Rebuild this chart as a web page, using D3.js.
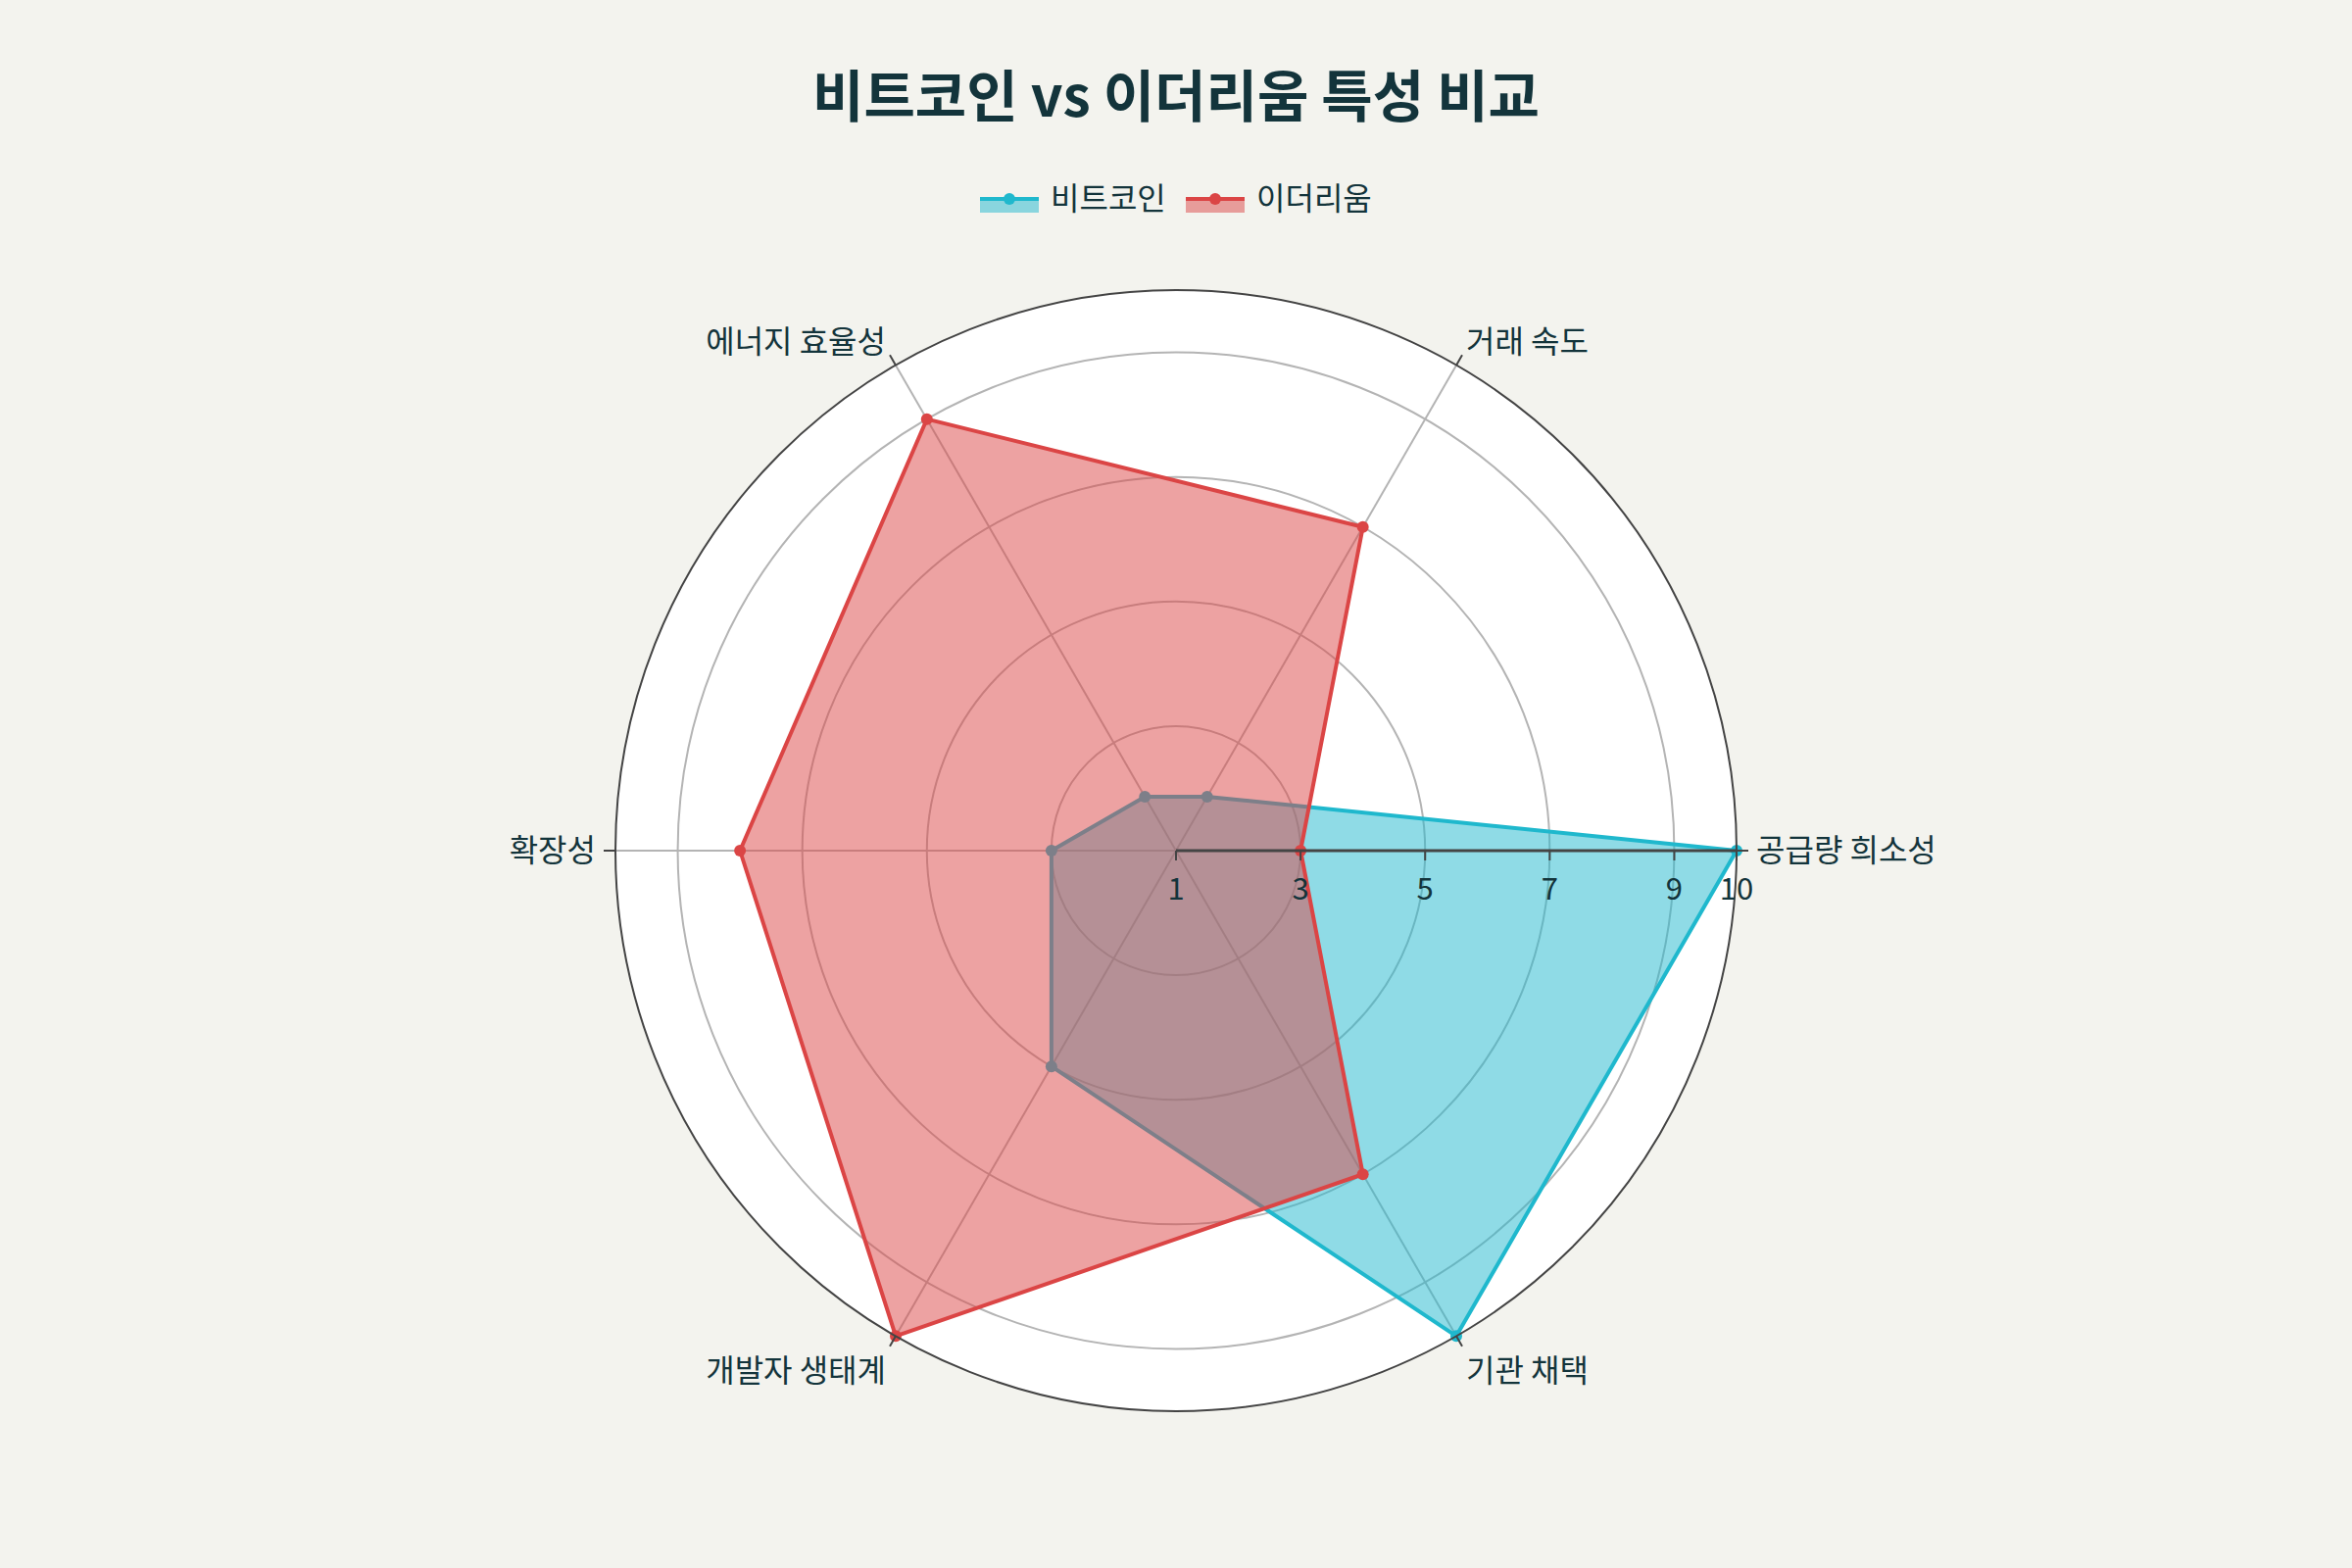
<!DOCTYPE html>
<html>
<head>
<meta charset="utf-8">
<script src="https://cdn.jsdelivr.net/npm/d3@7"></script>
<style>
  html, body { margin: 0; padding: 0; background: #F3F3EE; }
  text { font-family: "Noto Sans CJK KR", "Noto Sans", sans-serif; fill: #13343B; }
</style>
</head>
<body>
<div id="chart"></div>
<script>
// DATA
const categories = ["공급량 희소성", "거래 속도", "에너지 효율성", "확장성", "개발자 생태계", "기관 채택"];
const bitcoin = [10, 2, 2, 3, 5, 10];
const ethereum = [3, 7, 9, 8, 10, 7];
const seriesNames = ["비트코인", "이더리움"];
const radialTicks = [1, 3, 5, 7, 9, 10];
const gridVals = [3, 5, 7, 9];

// SIZES
const W = 2400, H = 1600;
const cx = 1200, cy = 868, R = 572;
const colors = ["#1FB8CD", "#DB4545"];

const svg = d3.select("#chart")
  .append("svg")
  .attr("width", W)
  .attr("height", H);

svg.append("rect").attr("width", W).attr("height", H).attr("fill", "#F3F3EE");

// TITLE
svg.append("text")
  .attr("x", cx)
  .attr("y", 119)
  .attr("text-anchor", "middle")
  .style("font-size", "57px")
  .style("font-weight", "700")
  .text("비트코인 vs 이더리움 특성 비교");

// SCALES
const r = d3.scaleLinear().domain([1, 10]).range([0, R]);
// category i sits at i*60 deg counterclockwise from east; d3 radial angles are clockwise from 12 o'clock
const ang = i => Math.PI / 2 - i * 2 * Math.PI / categories.length;

const g = svg.append("g").attr("transform", `translate(${cx}, ${cy})`);

// POLAR BACKGROUND
g.append("circle").attr("r", R).attr("fill", "#ffffff");

// GRID CIRCLES
g.selectAll(".grid")
  .data(gridVals)
  .join("circle")
  .attr("r", d => r(d))
  .attr("fill", "none")
  .attr("stroke", "#b4b4b4")
  .attr("stroke-width", 2);

// SPOKES
g.selectAll(".spoke")
  .data(categories)
  .join("line")
  .attr("x1", 0).attr("y1", 0)
  .attr("x2", (d, i) => d3.pointRadial(ang(i), R)[0])
  .attr("y2", (d, i) => d3.pointRadial(ang(i), R)[1])
  .attr("stroke", "#b4b4b4")
  .attr("stroke-width", 2);

// TRACES
const line = d3.lineRadial()
  .angle((d, i) => ang(i))
  .radius(d => r(d))
  .curve(d3.curveLinearClosed);

[bitcoin, ethereum].forEach((vals, k) => {
  const tg = g.append("g");
  tg.append("path")
    .attr("d", line(vals))
    .attr("fill", colors[k])
    .attr("fill-opacity", 0.5)
    .attr("stroke", colors[k])
    .attr("stroke-width", 4)
    .attr("stroke-linejoin", "round");
  tg.selectAll("circle")
    .data(vals)
    .join("circle")
    .attr("cx", (d, i) => d3.pointRadial(ang(i), r(d))[0])
    .attr("cy", (d, i) => d3.pointRadial(ang(i), r(d))[1])
    .attr("r", 6)
    .attr("fill", colors[k]);
});

// OUTER CIRCLE
g.append("circle").attr("r", R).attr("fill", "none").attr("stroke", "#444").attr("stroke-width", 2);

// ANGULAR TICKS AND LABELS
categories.forEach((c, i) => {
  const a = ang(i);
  const p0 = d3.pointRadial(a, R);
  const p1 = d3.pointRadial(a, R + 12);
  g.append("line")
    .attr("x1", p0[0]).attr("y1", p0[1])
    .attr("x2", p1[0]).attr("y2", p1[1])
    .attr("stroke", "#444").attr("stroke-width", 2);
  const pl = d3.pointRadial(a, R + 20);
  const cosv = Math.sin(a), sinv = Math.cos(a); // screen cos / sin (up positive)
  g.append("text")
    .attr("x", pl[0])
    .attr("y", pl[1] - sinv * 14 + Math.abs(sinv) * 7)
    .attr("dy", "0.35em")
    .attr("text-anchor", cosv > 0.01 ? "start" : (cosv < -0.01 ? "end" : "middle"))
    .style("font-size", "32px")
    .text(c);
});

// RADIAL AXIS
const ra = g.append("g");
ra.append("line")
  .attr("x1", 0).attr("y1", 0)
  .attr("x2", R).attr("y2", 0)
  .attr("stroke", "#444").attr("stroke-width", 3);
ra.selectAll(".rt")
  .data(radialTicks)
  .join("line")
  .attr("x1", d => r(d)).attr("x2", d => r(d))
  .attr("y1", 0).attr("y2", 10)
  .attr("stroke", "#444").attr("stroke-width", 2);
ra.selectAll(".rl")
  .data(radialTicks)
  .join("text")
  .attr("x", d => r(d))
  .attr("y", 50)
  .attr("text-anchor", "middle")
  .style("font-size", "31px")
  .text(d => d);

// LEGEND
const legendX = [1000, 1210];
seriesNames.forEach((name, k) => {
  const lg = svg.append("g").attr("transform", `translate(${legendX[k]}, 203)`);
  lg.append("rect")
    .attr("x", 0).attr("y", 0)
    .attr("width", 60).attr("height", 14)
    .attr("fill", colors[k]).attr("fill-opacity", 0.5);
  lg.append("line")
    .attr("x1", 0).attr("x2", 60)
    .attr("y1", 0).attr("y2", 0)
    .attr("stroke", colors[k]).attr("stroke-width", 4);
  lg.append("circle").attr("cx", 30).attr("cy", 0).attr("r", 6).attr("fill", colors[k]);
  lg.append("text")
    .attr("x", 72).attr("y", 0)
    .attr("dy", "0.35em")
    .style("font-size", "32px")
    .text(name);
});
</script>
</body>
</html>
